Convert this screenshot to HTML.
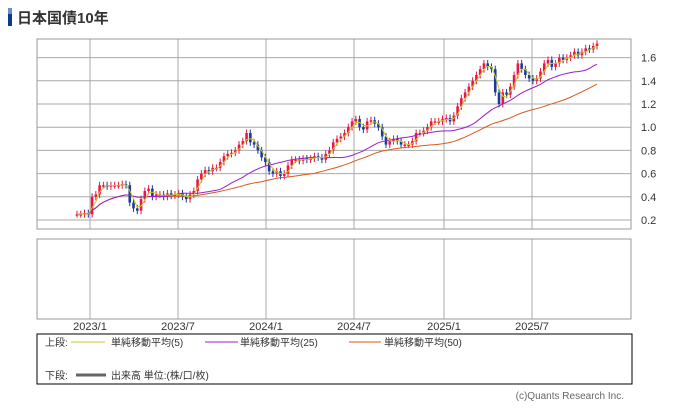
<!DOCTYPE html>
<html><head><meta charset="utf-8"><style>
body{margin:0;background:#fff;width:673px;height:407px;overflow:hidden;font-family:"Liberation Sans","Noto Sans CJK JP",sans-serif;}
svg text{font-family:"Liberation Sans","Noto Sans CJK JP",sans-serif;}
</style></head><body>
<svg id="c" width="673" height="407">
<rect x="8" y="8" width="4" height="18" fill="#0a3a8c"/>
<rect x="8" y="8" width="4" height="6" fill="#6a8fd0"/>
<text x="17" y="23" font-size="15" font-weight="bold" fill="#333">日本国債10年</text>
<g id="grid"></g>
<g id="marks"></g>
<rect x="37" y="39" width="594" height="190" fill="none" stroke="#999"/>
<rect x="37" y="239" width="594" height="80" fill="none" stroke="#999"/>
<g>
<rect x="37" y="334" width="595" height="50" fill="none" stroke="#000"/>
<text x="45" y="346" font-size="10" fill="#333">上段:</text>
<line x1="71" y1="342" x2="105" y2="342" stroke="#c8c820"/>
<text x="111" y="346" font-size="10" fill="#333">単純移動平均(5)</text>
<line x1="205" y1="342" x2="238" y2="342" stroke="#9a20c8"/>
<text x="240" y="346" font-size="10" fill="#333">単純移動平均(25)</text>
<line x1="349" y1="342" x2="381" y2="342" stroke="#d85a18"/>
<text x="384" y="346" font-size="10" fill="#333">単純移動平均(50)</text>
<text x="45" y="379" font-size="10" fill="#333">下段:</text>
<line x1="76" y1="375" x2="106" y2="375" stroke="#666" stroke-width="3"/>
<text x="111" y="379" font-size="10" fill="#333">出来高 単位:(株/口/枚)</text>
</g>
<text x="624" y="399" font-size="10" fill="#666" text-anchor="end">(c)Quants Research Inc.</text>
</svg>
<script>
const yTicks=[0.2,0.4,0.6,0.8,1.0,1.2,1.4,1.6];
const xLabels=["2023/1","2023/7","2024/1","2024/7","2025/1","2025/7"];
const xLabelPos=[90,178,266,354,444,532];
const maWindows=[3,25,50];
const closes=[0.25,0.25,0.26,0.25,0.40,0.42,0.50,0.50,0.49,0.50,0.50,0.50,0.51,0.50,0.35,0.30,0.28,0.38,0.45,0.47,0.40,0.42,0.42,0.40,0.43,0.41,0.42,0.43,0.40,0.38,0.42,0.45,0.55,0.60,0.63,0.62,0.65,0.65,0.70,0.75,0.77,0.78,0.80,0.85,0.88,0.95,0.87,0.85,0.80,0.74,0.70,0.62,0.60,0.62,0.58,0.60,0.67,0.72,0.72,0.71,0.73,0.72,0.73,0.75,0.74,0.72,0.77,0.80,0.87,0.90,0.92,0.95,1.00,1.05,1.07,1.00,0.98,1.05,1.06,1.03,1.00,0.92,0.85,0.88,0.90,0.88,0.85,0.85,0.85,0.88,0.95,0.95,0.97,1.00,1.05,1.05,1.05,1.07,1.08,1.05,1.10,1.18,1.25,1.30,1.35,1.40,1.45,1.50,1.55,1.52,1.50,1.30,1.20,1.30,1.28,1.35,1.45,1.55,1.50,1.45,1.42,1.40,1.42,1.48,1.55,1.58,1.52,1.55,1.60,1.58,1.60,1.62,1.65,1.62,1.65,1.68,1.67,1.70,1.72];
const ns="http://www.w3.org/2000/svg";
const svg=document.getElementById('c'),grid=document.getElementById('grid'),marks=document.getElementById('marks');
const yS=v=>220-(v-0.2)/0.2*23.2;
const x0=77,x1=597;
const xS=i=>x0+(x1-x0)*i/(closes.length-1);
function mk(t,a,p){const e=document.createElementNS(ns,t);for(const k in a)e.setAttribute(k,a[k]);(p||svg).appendChild(e);return e;}
yTicks.forEach(v=>{
 const l=mk('line',{x1:37,x2:631,y1:yS(v),y2:yS(v),stroke:'#aaa'},grid);
 
 
 const t=mk('text',{x:641,y:yS(v)+4,'font-size':11,fill:'#333'},grid);
 t.textContent=v.toFixed(1);
 
 
});
xLabels.forEach((s,i)=>{
 const px=xLabelPos[i];
 mk('line',{x1:px,x2:px,y1:39,y2:229,stroke:'#aaa'},grid);
 const l=mk('line',{x1:px,x2:px,y1:239,y2:319,stroke:'#aaa'},grid);
 
 
 const t=mk('text',{x:px,y:330,'font-size':11,fill:'#333','text-anchor':'middle'},grid);
 t.textContent=s;
 
 
});
closes.forEach((c,i)=>{
 const o=i?closes[i-1]:c;
 const up=c>=o,col=up?'#e8174a':'#1c3a9c';
 const hi=Math.max(o,c)+0.03,lo=Math.min(o,c)-0.03,x=xS(i);
 const w=mk('line',{x1:x,x2:x,y1:yS(hi),y2:yS(lo),stroke:col,'stroke-width':1},marks);
 
 
 const top=yS(Math.max(o,c)),h=Math.max(1.5,yS(Math.min(o,c))-top);
 const r=mk('rect',{x:x-1.3,y:top,width:2.6,height:h,fill:col},marks);
 
 
});
function ma(n,col,name){
 const pts=closes.map((c,i)=>{const s=closes.slice(Math.max(0,i-n+1),i+1);const m=s.reduce((a,b)=>a+b,0)/s.length;return xS(i)+','+yS(m);});
 const p=mk('polyline',{points:pts.join(' '),fill:'none',stroke:col,'stroke-width':1},marks);
 
 
}
ma(maWindows[2],'#d85a18','ma50-line');ma(maWindows[1],'#9a20c8','ma25-line');ma(maWindows[0],'#c8c820','ma5-line');
</script>
</body></html>
